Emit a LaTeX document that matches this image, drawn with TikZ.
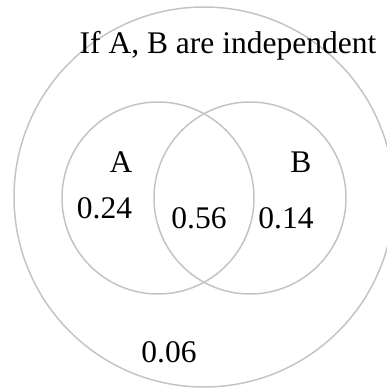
\documentclass[tikz,border=0pt]{standalone}
\usepackage{fontspec}
\setmainfont{Liberation Serif}
\usetikzlibrary{positioning}
\definecolor{ringgray}{RGB}{196,196,196}

\begin{document}
\begin{tikzpicture}[x=1pt,y=-1pt,
    every node/.style={font=\fontsize{31.5}{38}\selectfont, inner sep=0pt},
    ring/.style={draw=ringgray, line width=1.5pt, circle, minimum size=#1},
    lbl/.style={anchor=base}]
    \useasboundingbox (0,0) rectangle (387,389);
    \clip (0,0) rectangle (387,389);
    % outer set and the two events
    \node[ring=380pt] (omega) at (204,197) {};
    \node[ring=192pt] (setA) at (158,198) {};
    \node[ring=192pt] (setB) at (250,198) {};
    % labels
    \node[lbl] (title) at (228,53) {If A, B are independent};
    \node[lbl] (nameA) at (121,172) {A};
    \node[lbl] (nameB) at (301,172) {B};
    \node[lbl] (pA) at (104.5,218) {0.24};
    \node[lbl] (pAB) at (199,228) {0.56};
    \node[lbl] (pB) at (286,228) {0.14};
    \node[lbl] (pNone) at (169,362) {0.06};
\end{tikzpicture}
\end{document}
